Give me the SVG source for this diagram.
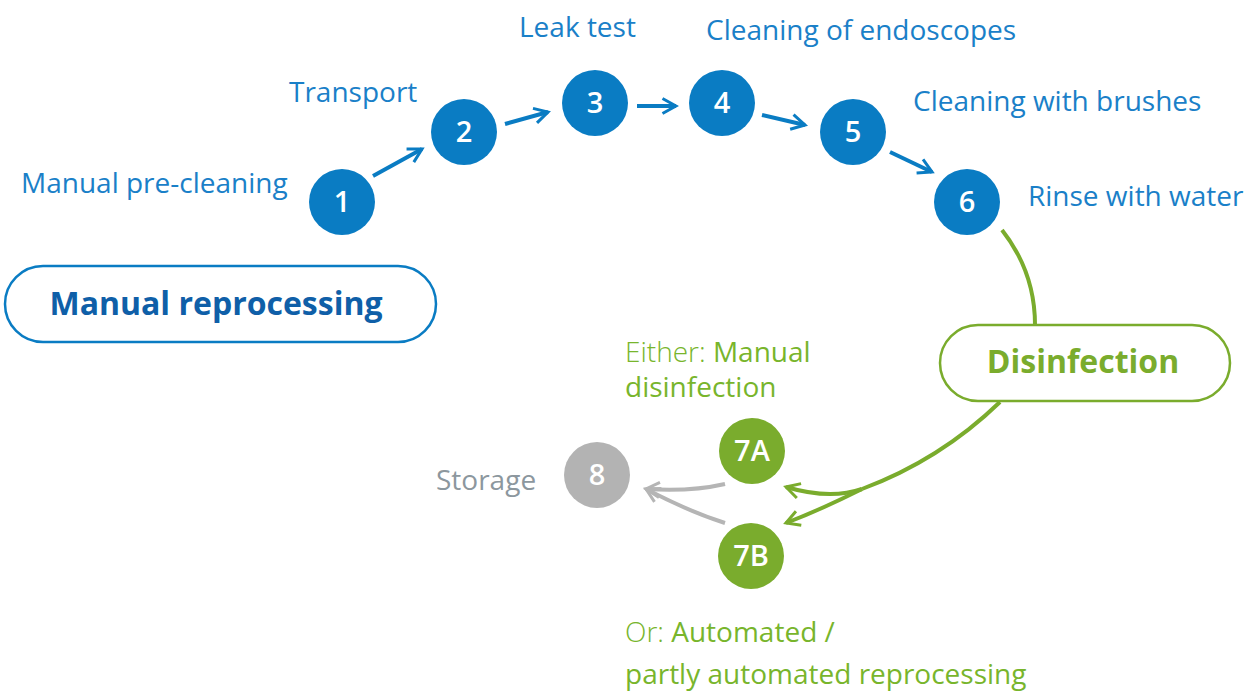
<svg xmlns="http://www.w3.org/2000/svg" width="1245" height="693" viewBox="0 0 1245 693">
<defs>
<style>
.lbl{font-family:"Open Sans","Noto Sans",sans-serif;font-size:28px;fill:#1a80c8}
.num{font-family:"Open Sans","Noto Sans",sans-serif;font-size:29px;font-weight:600;fill:#fff;text-anchor:middle}
.blue{fill:#0a7cc3}
.green{fill:#7aac2d}
.gray{fill:#b3b3b3}
.ab{stroke:#0a7cc3;stroke-width:4;fill:none;stroke-linecap:butt}
.ag{stroke:#7aac2d;stroke-width:4;fill:none}
.agr{stroke:#b5b5b5;stroke-width:4;fill:none}
.gtxt{font-family:"Open Sans","Noto Sans",sans-serif;font-size:28px;fill:#78b52c}
.light{font-weight:300}
</style>
<marker id="mb" viewBox="0 0 12 12" refX="10" refY="6" markerWidth="4.5" markerHeight="4.5" orient="auto" markerUnits="strokeWidth"><path d="M1,1 L10,6 L1,11" fill="none" stroke="#0a7cc3" stroke-width="2"/></marker>
<marker id="mg" viewBox="0 0 12 12" refX="10" refY="6" markerWidth="4.5" markerHeight="4.5" orient="auto" markerUnits="strokeWidth"><path d="M1,1 L10,6 L1,11" fill="none" stroke="#7aac2d" stroke-width="2"/></marker>
<marker id="mgr" viewBox="0 0 12 12" refX="10" refY="6" markerWidth="4.5" markerHeight="4.5" orient="auto" markerUnits="strokeWidth"><path d="M1,1 L10,6 L1,11" fill="none" stroke="#b5b5b5" stroke-width="2"/></marker>
</defs>
<rect width="1245" height="693" fill="#fff"/>
<g id="connectors">
<line class="ab" x1="373" y1="176" x2="422" y2="149" marker-end="url(#mb)"/>
<line class="ab" x1="505" y1="124" x2="548" y2="112" marker-end="url(#mb)"/>
<line class="ab" x1="637" y1="106" x2="676" y2="106" marker-end="url(#mb)"/>
<line class="ab" x1="762" y1="115" x2="805" y2="125" marker-end="url(#mb)"/>
<line class="ab" x1="890" y1="152" x2="932" y2="172" marker-end="url(#mb)"/>
<path class="ag" d="M1002,230 Q1035,272 1035,325"/>
<path class="ag" d="M1000,402 Q940,460 862,489"/>
<path class="ag" d="M862,489 Q830,500 786,487" marker-end="url(#mg)"/>
<path class="ag" d="M862,489 Q820,510 786,523" marker-end="url(#mg)"/>
<path class="agr" d="M725,484 Q690,492 646,489" marker-end="url(#mgr)"/>
<path class="agr" d="M725,523 Q690,512 646,489" marker-end="url(#mgr)"/>
</g>
<g id="box-manual">
<rect x="5" y="266" width="431" height="76" rx="38" fill="#fff" stroke="#0a7cc3" stroke-width="2.5"/>
<text x="216" y="315" text-anchor="middle" font-family="'Open Sans','Noto Sans',sans-serif" font-size="32" font-weight="700" fill="#0f5fa8">Manual reprocessing</text>
</g>
<g id="box-disinfection">
<rect x="940" y="325" width="290" height="76" rx="38" fill="#fff" stroke="#7aac2d" stroke-width="2.5"/>
<text x="1083" y="373" text-anchor="middle" font-family="'Open Sans','Noto Sans',sans-serif" font-size="32" font-weight="700" fill="#7aac2d">Disinfection</text>
</g>
<g id="n1"><circle class="blue" cx="342" cy="202" r="33"/><text class="num" x="342" y="212">1</text><text class="lbl" x="21" y="193">Manual pre-cleaning</text></g>
<g id="n2"><circle class="blue" cx="464" cy="132" r="33"/><text class="num" x="464" y="142">2</text><text class="lbl" x="289" y="102">Transport</text></g>
<g id="n3"><circle class="blue" cx="595" cy="103" r="33"/><text class="num" x="595" y="113">3</text><text class="lbl" x="519" y="37">Leak test</text></g>
<g id="n4"><circle class="blue" cx="722" cy="103" r="33"/><text class="num" x="722" y="113">4</text><text class="lbl" x="706" y="40">Cleaning of endoscopes</text></g>
<g id="n5"><circle class="blue" cx="853" cy="132" r="33"/><text class="num" x="853" y="142">5</text><text class="lbl" x="913" y="111">Cleaning with brushes</text></g>
<g id="n6"><circle class="blue" cx="967" cy="202" r="33"/><text class="num" x="967" y="212">6</text><text class="lbl" x="1028" y="206">Rinse with water</text></g>
<g id="n7a"><circle class="green" cx="752" cy="451" r="33"/><text class="num" x="752" y="461">7A</text>
<text class="gtxt" x="625" y="362"><tspan class="light">Either:</tspan> Manual</text><text class="gtxt" x="625" y="397">disinfection</text></g>
<g id="n7b"><circle class="green" cx="751" cy="556" r="33"/><text class="num" x="751" y="566">7B</text>
<text class="gtxt" x="625" y="642"><tspan class="light">Or:</tspan> Automated /</text><text class="gtxt" x="625" y="684">partly automated reprocessing</text></g>
<g id="n8"><circle class="gray" cx="597" cy="475" r="33"/><text class="num" x="597" y="485">8</text><text x="436" y="490" font-family="'Open Sans','Noto Sans',sans-serif" font-size="28" fill="#8c979e">Storage</text></g>
</svg>
